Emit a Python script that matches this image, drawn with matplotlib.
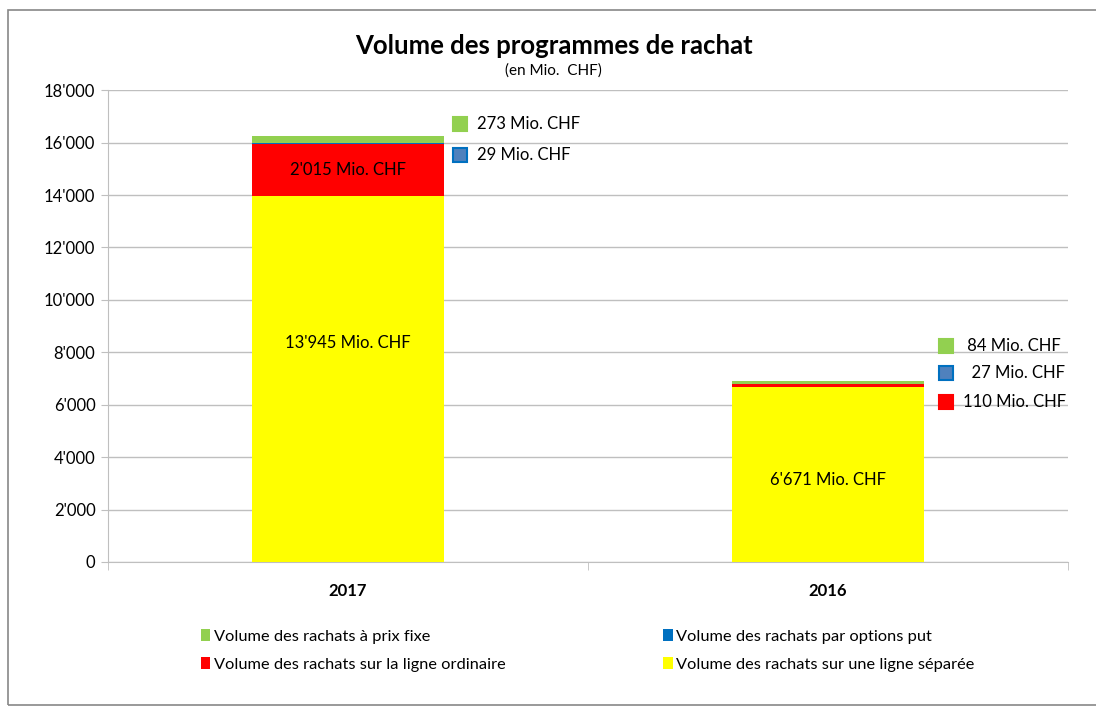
import numpy as np
import matplotlib.pyplot as plt
import matplotlib.transforms as mtransforms
from matplotlib.patches import Rectangle

plt.rcParams['font.family'] = ['Lato', 'DejaVu Sans']

years = ['2017', '2016']
separee = [13945, 6671]
ordinaire = [2015, 110]
options_put = [29, 27]
prix_fixe = [273, 84]

noms = ['Volume des rachats sur une ligne séparée',
        'Volume des rachats sur la ligne ordinaire',
        'Volume des rachats par options put',
        'Volume des rachats à prix fixe']
couleurs = ['#FFFF00', '#FF0000', '#0070C0', '#92D050']
series = [separee, ordinaire, options_put, prix_fixe]


def fmt(v):
    return f"{v:,}".replace(',', "'")


fig = plt.figure(figsize=(10.96, 7.10), dpi=100)
ax = fig.add_axes([0.0985, 0.2085, 0.876, 0.6645])

x = np.arange(len(years))
bas = np.zeros(len(years))
barres = []
for vals, c, n in zip(series, couleurs, noms):
    b = ax.bar(x, vals, 0.4, bottom=bas, color=c, label=n, zorder=3)
    barres.append(b)
    bas = bas + np.array(vals)

ax.set_xlim(-0.5, 1.5)
ax.set_ylim(0, 18000)
ax.set_yticks(np.arange(0, 18001, 2000))
ax.set_yticklabels([fmt(v) for v in range(0, 18001, 2000)], fontsize=12)
ax.yaxis.grid(True, color='#BFBFBF', linewidth=1, zorder=0)
for s in ['top', 'right']:
    ax.spines[s].set_visible(False)
ax.spines['left'].set_color('#BFBFBF')
ax.spines['bottom'].set_color('#BFBFBF')
ax.tick_params(axis='y', length=5, color='#BFBFBF', pad=4)

ax.set_xticks(x)
ax.set_xticklabels(years, fontsize=12, fontweight='bold')
ax.tick_params(axis='x', length=0, pad=15)
ax.set_xticks([-0.5, 0.5, 1.5], minor=True)
ax.tick_params(axis='x', which='minor', length=6, color='#BFBFBF')

# labels inside the bars
ax.text(0, ordinaire[0] / 2 + separee[0], fmt(ordinaire[0]) + ' Mio. CHF',
        ha='center', va='center', fontsize=12, zorder=4)
ax.text(0, separee[0] * 0.6, fmt(separee[0]) + ' Mio. CHF',
        ha='center', va='center', fontsize=12, zorder=4)
ax.text(1, separee[1] * 0.47, fmt(separee[1]) + ' Mio. CHF',
        ha='center', va='center', fontsize=12, zorder=4)

# labels beside the bars (offsets in pixels from the top of each bar)
total = bas
cotes = [
    (0, prix_fixe[0], '#92D050', '#92D050', 112, 12, ''),
    (0, options_put[0], '#4F81BD', '#0070C0', 112, -19, ''),
    (1, prix_fixe[1], '#92D050', '#92D050', 118, 35, ' '),
    (1, options_put[1], '#4F81BD', '#0070C0', 118, 8, '  '),
    (1, ordinaire[1], '#FF0000', '#FF0000', 118, -21, ''),
]
for i, v, fc, ec, dx, dy, pre in cotes:
    tr = ax.transData + mtransforms.ScaledTranslation(
        dx / 100, dy / 100, fig.dpi_scale_trans)
    ax.plot([i], [total[i]], marker='s', ms=10, mfc=fc, mec=ec, mew=1.5,
            transform=tr, clip_on=False, zorder=5)
    ax.text(i, total[i], '    ' + pre + str(v) + ' Mio. CHF', transform=tr,
            ha='left', va='center', fontsize=12, zorder=5)

fig.text(0.505, 0.935, 'Volume des programmes de rachat', ha='center',
         va='center', fontsize=18.5, fontweight='bold')
fig.text(0.505, 0.901, '(en Mio.  CHF)', ha='center', va='center', fontsize=11)

ordre = [3, 1, 2, 0]
fig.legend([barres[k] for k in ordre], [noms[k] for k in ordre],
           loc='center', bbox_to_anchor=(0.536, 0.084), ncol=2, frameon=False,
           fontsize=11.8, handlelength=0.6, handleheight=0.8, handletextpad=0.2,
           columnspacing=9.6, labelspacing=0.8)

fig.patches.append(Rectangle((0.007, 0.007), 1.2, 0.979, transform=fig.transFigure,
                             fill=False, edgecolor='#888888', linewidth=1.2))

fig.savefig('out.png', dpi=100)
